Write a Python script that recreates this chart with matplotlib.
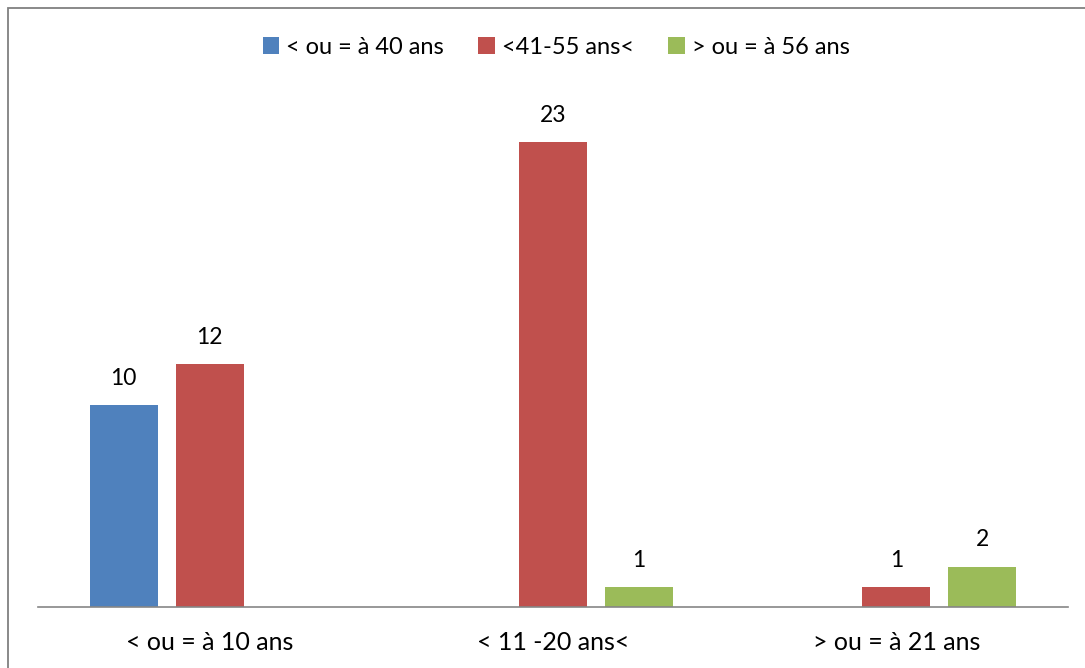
import numpy as np
import matplotlib.pyplot as plt
from matplotlib.patches import Rectangle

plt.rcParams['font.family'] = ['Lato', 'DejaVu Sans']

categories = ['< ou = à 10 ans', '< 11 -20 ans<', '> ou = à 21 ans']
series_names = ['< ou = à 40 ans', '<41-55 ans<', '> ou = à 56 ans']
values = [
    [10, 0, 0],
    [12, 23, 1],
    [0, 1, 2],
]
colors = ['#4F81BD', '#C0504D', '#9BBB59']

W, H = 1085, 668
fig = plt.figure(figsize=(W / 100, H / 100), dpi=100)
ax = fig.add_axes([38 / W, (H - 607) / H, (1068 - 38) / W, 503.75 / H])

x = np.arange(len(categories))
offset = 0.2505
width = 0.198

for i, (name, vals, c) in enumerate(zip(series_names, values, colors)):
    pos = x + (i - 1) * offset
    bars = ax.bar(pos, vals, width, color=c, label=name, zorder=2)
    for b, v in zip(bars, vals):
        if v > 0:
            ax.annotate(str(v), (b.get_x() + b.get_width() / 2, v),
                        xytext=(0, 14.5), textcoords='offset points',
                        ha='center', va='baseline', fontsize=16.5, color='black')

ax.set_xlim(-0.5, 2.5)
ax.set_ylim(0, 24.9)
for s in ['left', 'right', 'top']:
    ax.spines[s].set_visible(False)
ax.spines['bottom'].set_color('#868686')
ax.spines['bottom'].set_linewidth(1.2)
ax.set_yticks([])
ax.set_xticks(x)
ax.set_xticklabels(categories, fontsize=18)
ax.tick_params(axis='x', length=0, pad=17)

leg = fig.legend(loc='center', bbox_to_anchor=(556 / W, (H - 47) / H), ncol=3,
                 frameon=False, fontsize=17, handlelength=0.7, handleheight=0.7,
                 handletextpad=0.3, columnspacing=1.45)

fig.patches.append(Rectangle((8 / W, -0.1), 1.2, (H - 8) / H + 0.1,
                             transform=fig.transFigure, fill=False,
                             edgecolor='#808080', linewidth=1.3))

fig.savefig('out.png', dpi=100)
